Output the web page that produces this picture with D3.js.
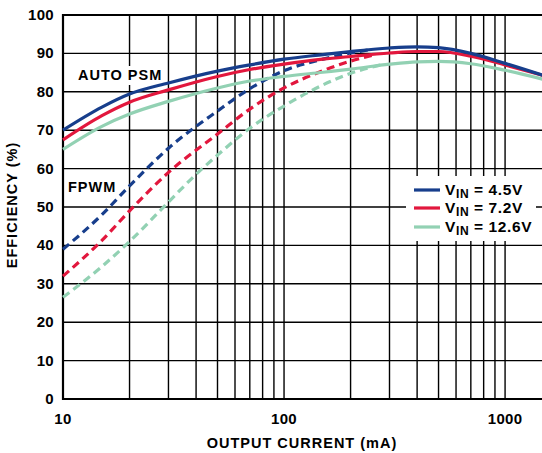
<!DOCTYPE html>
<html>
<head>
<meta charset="utf-8">
<script src="https://cdn.jsdelivr.net/npm/d3@7.9.0/dist/d3.min.js"></script>
<style>
  html, body { margin: 0; padding: 0; background: #fff; }
  svg { display: block; font-family: "Liberation Sans", Arial, sans-serif; font-weight: bold; }
</style>
</head>
<body>
<svg id="chart" width="542" height="453"></svg>
<script>
// data: output current (mA) and efficiency (%)
const currents = [10, 15, 20, 30, 50, 70, 100, 150, 200, 300, 400, 500, 700, 1000, 1500];

const psm45 = [70, 76, 79.4, 82.3, 85.4, 87, 88.5, 89.7, 90.5, 91.4, 91.7, 91.5, 90, 87.4, 84.2];
const psm72 = [67.5, 73.8, 77.3, 80.5, 84, 85.8, 87.2, 88.5, 89.2, 90.1, 90.5, 90.5, 89.3, 87, 84.2];
const psm126 = [65, 71, 74.2, 77.5, 81, 82.8, 84, 85.1, 85.9, 87.2, 87.8, 87.9, 87.3, 85.6, 83.2];

const fpwmCurrents45 = [10, 15, 20, 30, 50, 70, 100, 150, 200, 240];
const fpwm45 = [39, 48, 55.5, 65.3, 75, 80.8, 85.5, 88.5, 90.1, 90.9];
const fpwmCurrents72 = [10, 15, 20, 30, 50, 70, 100, 150, 200, 260];
const fpwm72 = [32, 41.3, 49, 59, 69, 75.5, 81, 85.5, 88, 89.7];
const fpwmCurrents126 = [10, 15, 20, 30, 40, 50, 70, 100, 150, 200, 280];
const fpwm126 = [26.5, 34.5, 41, 51.3, 58.5, 63.5, 70.5, 76.3, 81.8, 84.8, 87.1];

const yTicks = [0, 10, 20, 30, 40, 50, 60, 70, 80, 90, 100];
const xTickLabels = [10, 100, 1000];
const legendLabels = ["4.5V", "7.2V", "12.6V"];

const colors = ["#173e8c", "#e2173d", "#92d1b3"];

const svg = d3.select("#chart");

const margin = { left: 63, right: 544, top: 15, bottom: 399 };

const x = d3.scaleLog().domain([10, 1500]).range([margin.left, margin.right]);
const y = d3.scaleLinear().domain([0, 100]).range([margin.bottom, margin.top]);

// grid lines
const minorX = [];
[10, 100, 1000].forEach(dec => {
    for (let k = 1; k <= 9; k++) {
        const v = dec * k;
        if (v > 10 && v <= 1500) minorX.push(v);
    }
});

const grid = svg.append("g").attr("stroke", "#000").attr("stroke-width", 1.4);

grid.selectAll(".vx")
    .data(minorX)
    .enter()
    .append("line")
    .attr("x1", d => x(d)).attr("x2", d => x(d))
    .attr("y1", margin.top).attr("y2", margin.bottom);

grid.selectAll(".hy")
    .data(yTicks.slice(1, -1))
    .enter()
    .append("line")
    .attr("x1", margin.left).attr("x2", margin.right)
    .attr("y1", d => y(d)).attr("y2", d => y(d));

// frame
svg.append("path")
    .attr("d", `M${margin.right},${margin.top}H${margin.left}V${margin.bottom}H${margin.right}`)
    .attr("fill", "none")
    .attr("stroke", "#000")
    .attr("stroke-width", 2.2);

// white boxes behind the legend and the label
svg.append("rect")
    .attr("x", 406).attr("y", 176).attr("width", 130).attr("height", 65)
    .attr("fill", "#fff");

svg.append("rect")
    .attr("x", 74).attr("y", 66).attr("width", 92).attr("height", 19)
    .attr("fill", "#fff");

// curves
const line = d3.line()
    .x(d => x(d[0]))
    .y(d => y(d[1]))
    .curve(d3.curveMonotoneX);

const solidSeries = [psm45, psm72, psm126];
const dashedSeries = [
    [fpwmCurrents45, fpwm45],
    [fpwmCurrents72, fpwm72],
    [fpwmCurrents126, fpwm126]
];

const curves = svg.append("g").attr("fill", "none").attr("stroke-width", 3.2);

// dashed first so solid lines sit on top; draw low-voltage last
[2, 1, 0].forEach(i => {
    const [cx, cy] = dashedSeries[i];
    curves.append("path")
        .attr("d", line(cx.map((c, j) => [c, cy[j]])))
        .attr("stroke", colors[i])
        .attr("stroke-dasharray", "8,5");
});

[2, 1, 0].forEach(i => {
    curves.append("path")
        .attr("d", line(currents.map((c, j) => [c, solidSeries[i][j]])))
        .attr("stroke", colors[i]);
});

// y tick labels
svg.append("g")
    .selectAll("text")
    .data(yTicks)
    .enter()
    .append("text")
    .attr("x", 54)
    .attr("y", d => y(d) + 5)
    .attr("text-anchor", "end")
    .attr("font-size", 15)
    .attr("letter-spacing", 0.3)
    .text(d => d);

// x tick labels
svg.append("g")
    .selectAll("text")
    .data(xTickLabels)
    .enter()
    .append("text")
    .attr("x", d => x(d))
    .attr("y", 424)
    .attr("text-anchor", "middle")
    .attr("font-size", 15)
    .attr("letter-spacing", 0.3)
    .text(d => d);

// axis titles
svg.append("text")
    .attr("x", 302).attr("y", 448)
    .attr("text-anchor", "middle")
    .attr("font-size", 14.5)
    .attr("letter-spacing", 1)
    .text("OUTPUT CURRENT (mA)");

svg.append("text")
    .attr("transform", "translate(17,205) rotate(-90)")
    .attr("text-anchor", "middle")
    .attr("font-size", 14.5)
    .attr("letter-spacing", 1)
    .text("EFFICIENCY (%)");

// curve labels
svg.append("text")
    .attr("x", 78).attr("y", 80)
    .attr("font-size", 14.5)
    .attr("letter-spacing", 1)
    .text("AUTO PSM");

svg.append("text")
    .attr("x", 68).attr("y", 192)
    .attr("font-size", 14.5)
    .attr("letter-spacing", 1)
    .text("FPWM");

// legend
const legendY = [190, 208, 227];
const legend = svg.append("g");

legendLabels.forEach((lab, i) => {
    legend.append("line")
        .attr("x1", 414).attr("x2", 440)
        .attr("y1", legendY[i]).attr("y2", legendY[i])
        .attr("stroke", colors[i])
        .attr("stroke-width", 3.2);

    const t = legend.append("text")
        .attr("x", 445)
        .attr("y", legendY[i] + 5)
        .attr("font-size", 15.5)
        .attr("letter-spacing", 0.6);
    t.append("tspan").text("V");
    t.append("tspan").attr("font-size", 12).attr("dy", 3).text("IN");
    t.append("tspan").attr("dy", -3).text(" = " + lab);
});
</script>
</body>
</html>
